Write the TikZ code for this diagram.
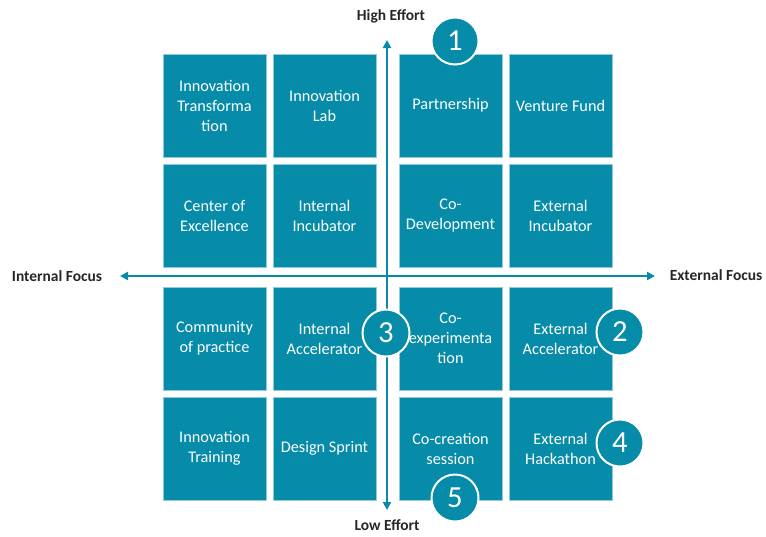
\documentclass[tikz,border=0pt]{standalone}
\usepackage{fontspec}
\setmainfont{Carlito}
\usetikzlibrary{arrows.meta,positioning}
\definecolor{quadteal}{RGB}{6,139,168}
\tikzset{
	option/.style={rectangle,minimum size=77.25pt,inner sep=0pt,fill=quadteal,draw=quadteal!45!white,line width=0.4pt,text=white,align=center,font=\fontsize{12.2}{15}\selectfont},
	marker/.style={circle,minimum size=35.25pt,inner sep=0pt,fill=quadteal,draw=white,line width=1.5pt,text=white,font=\fontsize{23}{23}\selectfont},
	axislabel/.style={font=\bfseries\fontsize{11.6}{13}\selectfont,text=black!85},
	node distance=82.5pt,on grid}

\begin{document}
\begin{tikzpicture}[x=0.75pt,y=-0.75pt,>={Triangle[length=6pt,width=6pt]}]
	
	\useasboundingbox (0,0) rectangle (766,536);
	
	% internal side, high effort
	\node[option] at (214.5,105.5) (inntrans) {Innovation\\Transforma\\tion};
	\node[option][right of = inntrans] (innlab) {Innovation\\Lab};
	\node[option][below of = inntrans] (center) {Center of\\Excellence};
	\node[option][right of = center] (intinc) {Internal\\Incubator};
	
	% external side, high effort
	\node[option][right of = innlab, xshift=12pt] (partner) {Partnership};
	\node[option][right of = partner] (venture) {Venture Fund};
	\node[option][below of = partner] (codev) {Co-\\Development};
	\node[option][right of = codev] (extinc) {External\\Incubator};
	
	% internal side, low effort
	\node[option][below of = center, yshift=-9.75pt] (community) {Community\\of practice};
	\node[option][right of = community] (intacc) {Internal\\Accelerator};
	\node[option][below of = community] (training) {Innovation\\Training};
	\node[option][right of = training] (sprint) {Design Sprint};
	
	% external side, low effort
	\node[option][below of = codev, yshift=-9.75pt] (coexp) {Co-\\experimenta\\tion};
	\node[option][right of = coexp] (extacc) {External\\Accelerator};
	\node[option][below of = coexp] (cocreate) {Co-creation\\session};
	\node[option][right of = cocreate] (hackathon) {External\\Hackathon};
	
	% axes
	\coordinate (top) at (387,40);
	\coordinate (bottom) at (387,510);
	\coordinate (left) at (120,276);
	\coordinate (right) at (655,276);
	\draw[<->, quadteal, line width=1.5pt] (top) -- (bottom);
	\draw[<->, quadteal, line width=1.5pt] (left) -- (right);
	
	\node[axislabel] at (391,16) (high) {High Effort};
	\node[axislabel] at (387,525) (low) {Low Effort};
	\node[axislabel] at (57,276) (internal) {Internal Focus};
	\node[axislabel] at (716,275) (external) {External Focus};
	
	% numbered markers
	\node[marker] at (455,41) (m1) {1};
	\node[marker] at (620,332) (m2) {2};
	\node[marker] at (386,333) (m3) {3};
	\node[marker] at (620,443) (m4) {4};
	\node[marker] at (455,498) (m5) {5};
	
\end{tikzpicture}
\end{document}
